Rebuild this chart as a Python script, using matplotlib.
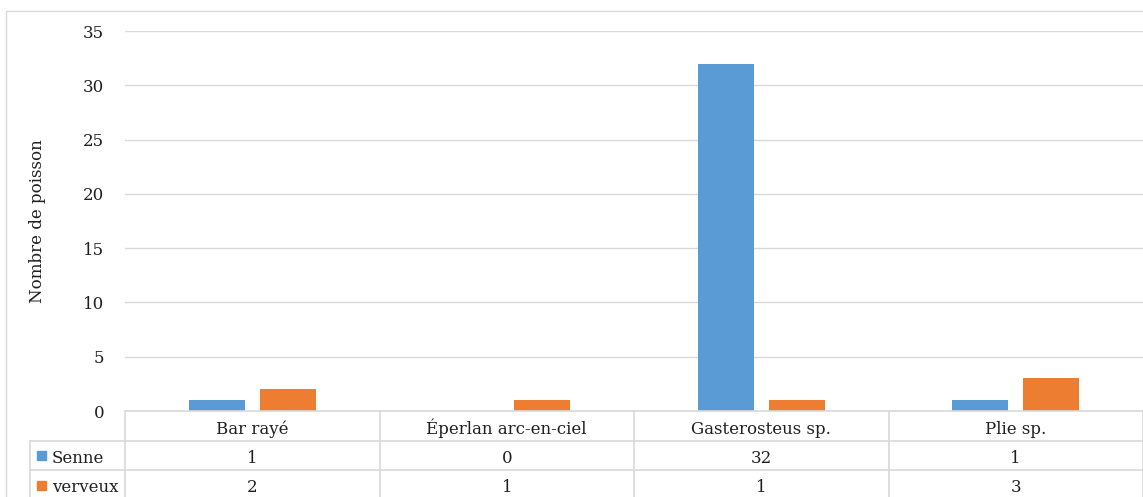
import matplotlib
matplotlib.use("Agg")
import matplotlib.pyplot as plt
import matplotlib.transforms as mtransforms
from matplotlib.patches import Rectangle
from matplotlib.lines import Line2D
import numpy as np

plt.rcParams['font.family'] = ['DejaVu Serif']

categories = ["Bar rayé", "Éperlan arc-en-ciel", "Gasterosteus sp.", "Plie sp."]
series_names = ["Senne", "verveux"]
senne = [1, 0, 32, 1]
verveux = [2, 1, 1, 3]
series_values = [senne, verveux]
colors = ["#5b9bd5", "#ed7d31"]
yticks = [0, 5, 10, 15, 20, 25, 30, 35]
ylabel = "Nombre de poisson"

FS = 12
TXT = "#1f1f1f"

W, H = 1143, 497
fig = plt.figure(figsize=(W / 100, H / 100), dpi=100)
fig.patch.set_facecolor("white")

# chart frame
fig.add_artist(Rectangle((6 / W, -0.01), (W - 6) / W + 0.01, (H - 11) / H + 0.01,
                         transform=fig.transFigure, fill=False,
                         edgecolor="#d9d9d9", linewidth=1.0))

ax_left, ax_right = 125 / W, 1.0
ax_bottom, ax_top = (H - 411) / H, (H - 31) / H
ax = fig.add_axes([ax_left, ax_bottom, ax_right - ax_left, ax_top - ax_bottom])
ax.set_xlim(-0.5, len(categories) - 0.5)
ax.set_ylim(0, 35)

x = np.arange(len(categories))
bar_w = 0.22
offset = 0.14
for i, (vals, col) in enumerate(zip(series_values, colors)):
    ax.bar(x + (i - 0.5) * 2 * offset, vals, width=bar_w, color=col, zorder=3)

ax.set_yticks(yticks)
ax.set_yticklabels([str(t) for t in yticks], fontsize=FS, color=TXT)
ax.tick_params(axis="y", length=0, pad=15)
ax.set_xticks([])
ax.grid(axis="y", color="#d9d9d9", linewidth=1.0, zorder=0)
for s in ax.spines.values():
    s.set_visible(False)

fig.text(38 / W, (H - 221) / H, ylabel, rotation=90, ha="center", va="center",
         fontsize=FS, color=TXT)

# data table below the axis
trans = mtransforms.blended_transform_factory(ax.transData, fig.transFigure)
row_edges_px = [411, 441, 470, 500]
row_edges = [(H - r) / H for r in row_edges_px]
baselines = [(H - b) / H for b in (434, 463, 492)]
grid_col = "#d9d9d9"
x0, x1 = -0.5, len(categories) - 0.5
legend_left = 30 / W

line_kw = dict(color=grid_col, linewidth=1.2, clip_on=False)
fig.add_artist(Line2D([x0, x1], [row_edges[0]] * 2, transform=trans, **line_kw))
for yy in row_edges[1:3]:
    fig.add_artist(Line2D([legend_left, 1.0], [yy, yy], transform=fig.transFigure, **line_kw))
for k in range(len(categories) + 1):
    fig.add_artist(Line2D([x0 + k, x0 + k], [row_edges[0], 0], transform=trans, **line_kw))
fig.add_artist(Line2D([legend_left, legend_left], [row_edges[1], 0],
                      transform=fig.transFigure, **line_kw))

for i, cat in enumerate(categories):
    fig.text(i, baselines[0], cat, transform=trans, ha="center", va="baseline",
             fontsize=FS, color=TXT)

for r, (name, vals, col) in enumerate(zip(series_names, series_values, colors)):
    yc = (row_edges[r + 1] + row_edges[r + 2]) / 2
    yb = baselines[r + 1]
    fig.add_artist(Rectangle((37 / W, yc - 4.5 / H), 9 / W, 9 / H,
                             transform=fig.transFigure, color=col))
    fig.text(52 / W, yb, name, ha="left", va="baseline", fontsize=FS, color=TXT)
    for i, v in enumerate(vals):
        fig.text(i, yb, str(v), transform=trans, ha="center", va="baseline",
                 fontsize=FS, color=TXT)

fig.savefig("out.png", dpi=100)
